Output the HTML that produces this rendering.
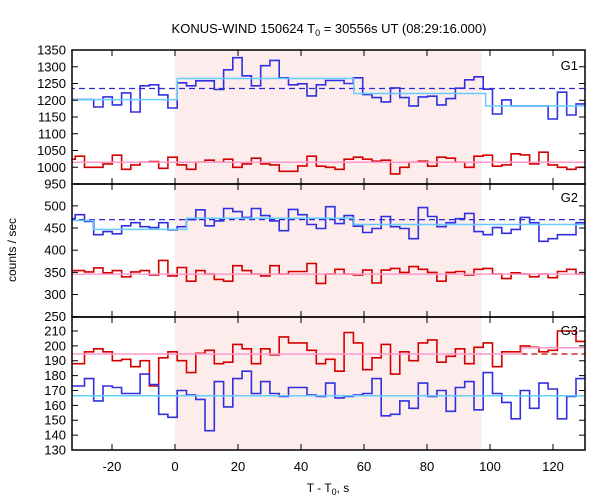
<!DOCTYPE html>
<html><head><meta charset="utf-8"><style>
body{margin:0;background:#fff;}
svg{display:block;font-family:"Liberation Sans","DejaVu Sans",sans-serif;}
</style></head><body>
<svg id="chart" width="600" height="500" viewBox="0 0 600 500" xmlns="http://www.w3.org/2000/svg">
<text x="329" y="33" font-size="13" text-anchor="middle">KONUS-WIND 150624 T<tspan font-size="9" dy="3">0</tspan><tspan dy="-3"> = 30556s UT (08:29:16.000)</tspan></text>
<text x="0" y="0" font-size="12" text-anchor="middle" transform="translate(16,250) rotate(-90)">counts / sec</text>
<text x="328" y="492" font-size="12" text-anchor="middle">T - T<tspan font-size="9" dy="3">0</tspan><tspan dy="-3">, s</tspan></text>
<g id="plots"></g>
</svg>
<script>
// ---- data ----
const binStart = 0.7;          // s, first bin edge after T0
const binWidth = 2.944;        // s
const firstBinIndex = -12;
const g1Blue = [1202,1202,1202,1180,1210,1186,1222,1165,1243,1246,1216,1177,1252,1243,1258,1258,1232,1291,1327,1273,1243,1303,1319,1267,1246,1249,1213,1246,1259,1259,1250,1267,1217,1208,1195,1237,1208,1183,1210,1212,1186,1205,1236,1261,1270,1233,1159,1201,1183,1183,1183,1183,1144,1224,1156,1189];
const g1Red = [1024,1033,1000,1000,1010,1036,994,1007,1015,1017,997,1030,1007,994,1015,1021,1015,1024,1000,1010,1027,1010,1007,988,988,1004,1033,1003,1000,994,1024,1030,1024,1018,1021,980,1000,1015,1018,1003,1030,1027,1015,1000,1033,1036,1003,1007,1040,1037,1010,1045,1007,1000,994,1000];
const g2Blue = [471,480,465,435,442,437,455,462,453,451,462,446,453,469,491,455,466,494,487,474,494,478,466,444,492,480,458,449,498,460,478,454,440,449,476,453,449,426,496,476,453,462,471,483,442,435,451,438,447,474,462,420,426,435,435,462];
const g2Red = [354,354,351,360,349,354,340,351,354,344,377,342,361,330,354,346,334,330,365,354,346,342,365,346,352,352,370,325,346,357,346,344,355,326,355,359,350,363,357,350,330,350,352,344,357,359,346,336,349,346,340,346,338,352,357,346];
const g3Blue = [173,173,178,163,173,172,168,168,181,174,154,152,170,167,164,143,176,159,178,183,168,176,168,166,172,172,167,166,175,165,166,167,168,178,153,154,163,158,175,166,170,156,172,176,157,182,168,162,151,170,158,175,171,151,166,178];
const g3Red = [188,188,196,198,196,190,191,186,190,173,192,196,190,182,195,197,188,189,201,198,188,198,194,206,202,202,197,188,191,183,209,202,184,192,201,181,196,190,202,204,189,193,198,188,199,202,186,196,196,200,199,196,197,210,210,203];
const g1BlueFit = [[-40,0.7,1202],[0.7,56.8,1265],[56.8,98.6,1220],[98.6,140,1183]];
const g1RedFit = [[-40,140,1015]];
const g1Mean = [[-40,140,1235]];
const g2BlueFit = [[-40,-26,467],[-26,3.7,447],[3.7,56.8,472],[56.8,140,458]];
const g2RedFit = [[-40,140,346]];
const g2Mean = [[-40,140,469]];
const g3BlueFit = [[-40,140,166.4]];
const g3RedFit = [[-40,110,194.5],[110,140,198.7]];
const g3RedDash = [[110,140,194.5]];
const xTicks = [-20,0,20,40,60,80,100,120];
const g1Ticks = [950,1000,1050,1100,1150,1200,1250,1300,1350];
const g2Ticks = [250,300,350,400,450,500];
const g3Ticks = [130,140,150,160,170,180,190,200,210];
const shade = [0,97.4];

// ---- layout ----
const NS = "http://www.w3.org/2000/svg";
const L = 72, R = 585;
const X = t => 175 + t * 3.15;
const panels = [
  {name:"g1", top:50, bot:184, vTop:1350, vBot:950, ticks:g1Ticks, label:"G1", labelY:70,
   blue:g1Blue, red:g1Red, bfit:g1BlueFit, rfit:g1RedFit, bdash:g1Mean, rdash:[]},
  {name:"g2", top:184, bot:317, vTop:549.3, vBot:249.3, ticks:g2Ticks, label:"G2", labelY:202,
   blue:g2Blue, red:g2Red, bfit:g2BlueFit, rfit:g2RedFit, bdash:g2Mean, rdash:[]},
  {name:"g3", top:317, bot:450, vTop:219.4, vBot:130, ticks:g3Ticks, label:"G3", labelY:335,
   blue:g3Blue, red:g3Red, bfit:g3BlueFit, rfit:g3RedFit, bdash:[], rdash:g3RedDash}
];
const root = document.getElementById('plots');
function mk(tag, attrs, parent){
  const e = document.createElementNS(NS, tag);
  for (const k in attrs) e.setAttribute(k, attrs[k]);
  (parent||root).appendChild(e);
  return e;
}
// shading
const sh = mk('rect',{x:X(shade[0]),y:50,width:X(shade[1])-X(shade[0]),height:400,fill:'#fdecec'});



panels.forEach(p=>{
  const Y = v => p.top + (p.vTop - v) * (p.bot - p.top) / (p.vTop - p.vBot);
  const g = mk('g',{});
  
  
  const cp = mk('clipPath',{id:'clip-'+p.name}, g);
  mk('rect',{x:L,y:p.top,width:R-L,height:p.bot-p.top}, cp);
  const inner = mk('g',{'clip-path':'url(#clip-'+p.name+')'}, g);
  function hist(vals, color, nm){
    let d = '';
    vals.forEach((v,i)=>{
      const t0 = binStart + (firstBinIndex + i) * binWidth, t1 = t0 + binWidth;
      d += (i===0 ? 'M' : 'L') + X(t0).toFixed(1) + ' ' + Y(v).toFixed(1) + ' L' + X(t1).toFixed(1) + ' ' + Y(v).toFixed(1) + ' ';
    });
    const e = mk('path',{d:d,fill:'none',stroke:color,'stroke-width':1.6}, inner);
    
    
  }
  function segs(arr, color, nm, dash){
    let d = '';
    arr.forEach((s,i)=>{
      d += (i===0?'M':'L') + X(s[0]).toFixed(1)+' '+Y(s[2]).toFixed(1)+' L'+X(s[1]).toFixed(1)+' '+Y(s[2]).toFixed(1)+' ';
    });
    if(!d) return;
    const a = {d:d,fill:'none',stroke:color,'stroke-width':dash?1.2:1.5};
    if(dash) a['stroke-dasharray'] = '6,4';
    const e = mk('path',a, inner);
    
    
  }
  segs(p.bdash, '#2a2ad0', p.name+'-blue-mean-dashed', true);
  segs(p.rdash, '#cc0000', p.name+'-red-mean-dashed', true);
  hist(p.red, '#d40000', p.name+'-red-series');
  hist(p.blue, '#3030e0', p.name+'-blue-series');
  segs(p.rfit, '#ff99cc', p.name+'-red-fit', false);
  segs(p.bfit, '#66ccff', p.name+'-blue-fit', false);
  // frame
  const fr = mk('rect',{x:L,y:p.top,width:R-L,height:p.bot-p.top,fill:'none',stroke:'#000','stroke-width':1.5}, g);
  
  
  // y ticks
  p.ticks.forEach(v=>{
    const y = Y(v);
    mk('line',{x1:L,x2:L+6,y1:y,y2:y,stroke:'#000','stroke-width':1}, g);
    mk('line',{x1:R-6,x2:R,y1:y,y2:y,stroke:'#000','stroke-width':1}, g);
    const tx = mk('text',{x:L-6,y:y+4.5,'font-size':13,'text-anchor':'end'}, g);
    
    
    tx.textContent = v;
  });
  // x ticks
  xTicks.forEach(t=>{
    const x = X(t);
    mk('line',{x1:x,x2:x,y1:p.top,y2:p.top+6,stroke:'#000','stroke-width':1}, g);
    mk('line',{x1:x,x2:x,y1:p.bot-6,y2:p.bot,stroke:'#000','stroke-width':1}, g);
  });
  const lb = mk('text',{x:578,y:p.labelY,'font-size':13,'text-anchor':'end'}, g);
  
  
  lb.textContent = p.label;
});
xTicks.forEach(t=>{
  const tx = mk('text',{x:X(t),y:471,'font-size':13,'text-anchor':'middle'});
  
  
  tx.textContent = t;
});
</script>
</body></html>
